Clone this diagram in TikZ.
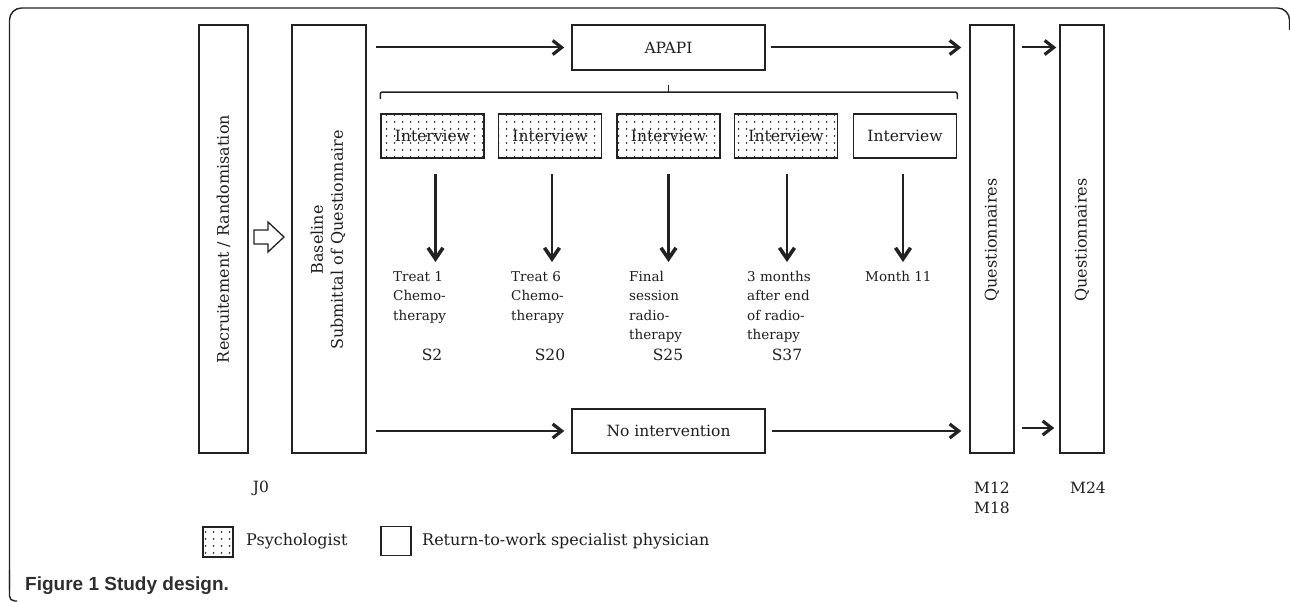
\documentclass[tikz,border=0pt]{standalone}
\usepackage{fontspec}
\setmainfont{DejaVu Serif}
\newfontfamily\capfont{Liberation Sans}
\usetikzlibrary{arrows.meta,patterns.meta}
\definecolor{ink}{HTML}{222222}
\definecolor{txt}{HTML}{1E1E1E}
\definecolor{captxt}{HTML}{2E2E2E}
\tikzdeclarepattern{
  name=idots,
  type=uncolored,
  bounding box={(0pt,0pt) and (7.5pt,6.5pt)},
  tile size={(7.5pt,6.5pt)},
  code={\fill (3.75pt,3.25pt) circle (1pt);}
}
\begin{document}
\begin{tikzpicture}[x=1pt,y=-1pt,
  font=\fontsize{15.5}{19.5}\selectfont,
  every node/.style={text=txt},
  box/.style={draw=ink,line width=1.5pt,inner sep=0pt},
  tallbox/.style={box,minimum height=428pt},
  ivbox/.style={box,minimum width=103pt,minimum height=44pt},
  dotbox/.style={ivbox,pattern=idots,pattern color=ink},
  harr/.style={draw=ink,line width=2pt,-{Straight Barb[length=9pt,width=14pt,line width=3.2pt]}},
  varr/.style={draw=ink,line width=2.2pt,-{Straight Barb[length=11pt,width=15pt,line width=3.6pt]}},
  lab/.style={anchor=north west,align=left,inner sep=0pt,font=\fontsize{13.5}{19.5}\selectfont},
  rot/.style={rotate=90,align=center,font=\fontsize{16}{20}\selectfont},
  frame/.style={draw=ink,line width=1.4pt}
]
\useasboundingbox (0,0) rectangle (1290,602);
% frame
\draw[frame,rounded corners=12pt] (9.5,590) -- (9.5,8) -- (1289.5,8) -- (1289.5,30);
\draw[frame,rounded corners=5pt] (9.5,570) -- (9.5,601) -- (17,601);

% tall boxes
\node[tallbox,minimum width=49pt] (rec) at (223.5,239) {};
\node[rot] (rect) at (223.5,239) {Recruitement / Randomisation};
\node[tallbox,minimum width=74pt] (base) at (329,239) {};
\node[rot] (baset) at (328,240) {Baseline\\Submittal of Questionnaire};
\node[tallbox,minimum width=44pt] (q1) at (992,239) {};
\node[rot] (q1t) at (992,240) {Questionnaires};
\node[tallbox,minimum width=44pt] (q2) at (1082,239) {};
\node[rot] (q2t) at (1082,240) {Questionnaires};

% hollow arrow
\draw[ink,line width=1.3pt,fill=white] (254,230) -- (268,230) -- (268,222) -- (284,237) -- (268,252) -- (268,244) -- (254,244) -- cycle;

% APAPI / No intervention
\node[box,minimum width=193pt,minimum height=45pt] (apapi) at (668.5,47.5) {APAPI};
\node[box,minimum width=193pt,minimum height=44pt] (noint) at (668.5,431) {No intervention};

\draw[harr,shorten <=9pt,shorten >=7pt] (base.east |- apapi.west) -- (apapi.west);
\draw[harr,shorten <=5pt,shorten >=8pt] (apapi.east) -- (apapi.east -| q1.west);
\draw[harr,shorten <=7pt,shorten >=3pt] (q1.east |- apapi.east) -- (q2.west |- apapi.east);
\draw[harr,shorten <=9pt,shorten >=7pt] (base.east |- noint.west) -- (noint.west);
\draw[harr,shorten <=6pt,shorten >=8pt] (noint.east) -- (noint.east -| q1.west);
\draw[harr,shorten <=7pt,shorten >=5pt] ([yshift=3pt]q1.east |- noint.east) -- ([yshift=3pt]q2.west |- noint.east);

% interviews
\node[dotbox] (iv1) at (432.5,136) {Interview};
\node[dotbox] (iv2) at (550,136) {Interview};
\node[dotbox] (iv3) at (668.5,136) {Interview};
\node[dotbox] (iv4) at (786,136) {Interview};
\node[ivbox] (iv5) at (905,136) {Interview};

% bracket
\draw[ink,line width=1.5pt,rounded corners=2pt] (iv1.north west |- 0,99) -- (iv1.north west |- 0,92) -- (iv5.north east |- 0,92) -- (iv5.north east |- 0,99);
\draw[ink,line width=1.5pt] (apapi.south |- 0,92) -- (apapi.south |- 0,85);

% labels
\node[lab] (l1) at (393,271) {Treat 1\\Chemo-\\therapy};
\node[lab] (l2) at (511,271) {Treat 6\\Chemo-\\therapy};
\node[lab] (l3) at (629,271) {Final\\session\\radio-\\therapy};
\node[lab] (l4) at (747,271) {3 months\\after end\\of radio-\\therapy};
\node[lab] (l5) at (865,271) {Month 11};

\draw[varr,shorten <=15pt,shorten >=9pt] ([xshift=3pt]iv1.south) -- ([xshift=3pt]iv1.south |- l1.north);
\draw[varr,shorten <=15pt,shorten >=9pt] ([xshift=2pt]iv2.south) -- ([xshift=2pt]iv2.south |- l2.north);
\draw[varr,shorten <=15pt,shorten >=9pt] (iv3.south) -- (iv3.south |- l3.north);
\draw[varr,shorten <=15pt,shorten >=9pt] ([xshift=1pt]iv4.south) -- ([xshift=1pt]iv4.south |- l4.north);
\draw[varr,shorten <=15pt,shorten >=9pt] ([xshift=-2pt]iv5.south) -- ([xshift=-2pt]iv5.south |- l5.north);

\node (s2) at (432,355) {S2};
\node (s20) at (550,355) {S20};
\node (s25) at (668,355) {S25};
\node (s37) at (787,355) {S37};

% time points
\node (j0) at (261,488) {J0};
\node[align=center] (m12) at (992,498) {M12\\M18};
\node (m24) at (1088,488) {M24};

% legend
\node[box,minimum width=30pt,minimum height=30pt,pattern=idots,pattern color=ink] (lg1) at (218,542) {};
\node[anchor=west,inner sep=0pt,font=\fontsize{16}{19}\selectfont] (lg1t) at (246,541) {Psychologist};
\node[box,minimum width=30pt,minimum height=29pt] (lg2) at (396,541) {};
\node[anchor=west,inner sep=0pt,font=\fontsize{16}{19}\selectfont] (lg2t) at (422,541) {Return-to-work specialist physician};

% caption
\node[anchor=west,inner sep=0pt,text=captxt,font=\capfont\bfseries\fontsize{19}{22}\selectfont] (cap) at (25,586) {Figure 1 Study design.};
\end{tikzpicture}
\end{document}
